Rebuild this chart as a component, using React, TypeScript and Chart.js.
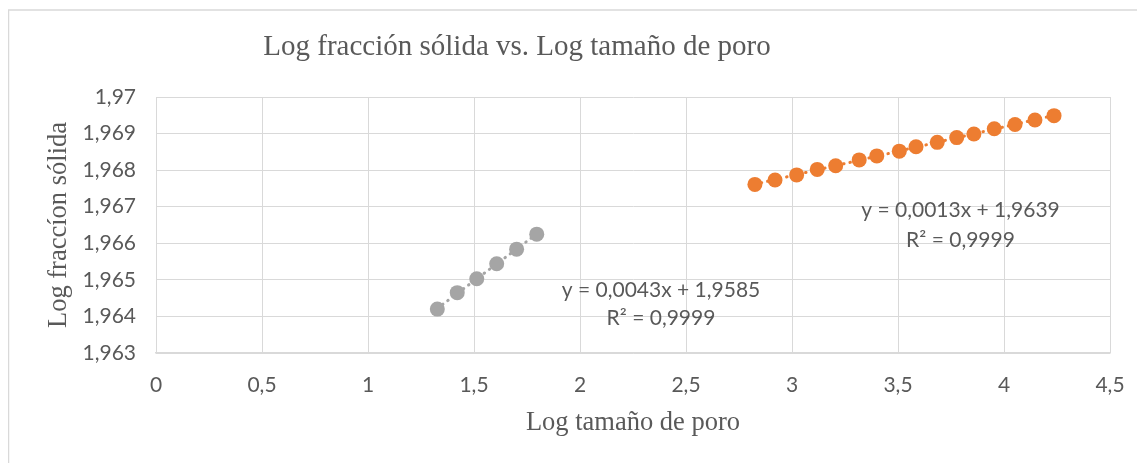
import React, { useEffect, useRef } from 'react';
import { Chart, registerables } from 'chart.js';

Chart.register(...registerables);

// ---- data ----
const grayX = [1.327, 1.421, 1.513, 1.607, 1.701, 1.796];
const grayY = [1.9642, 1.96465, 1.96503, 1.96544, 1.96584, 1.96625];

const orangeX = [2.825, 2.92, 3.022, 3.119, 3.206, 3.317, 3.4, 3.506, 3.585, 3.685, 3.777, 3.858, 3.954, 4.052, 4.146, 4.236];
const orangeY = [1.96761, 1.96773, 1.96787, 1.96802, 1.96812, 1.96828, 1.96839, 1.96852, 1.96864, 1.96876, 1.96889, 1.96899, 1.96913, 1.96925, 1.96937, 1.96949];

const yTickLabels = ['1,963', '1,964', '1,965', '1,966', '1,967', '1,968', '1,969', '1,97'];
const xTickLabels = ['0', '0,5', '1', '1,5', '2', '2,5', '3', '3,5', '4', '4,5'];

const grayEquation = ['y = 0,0043x + 1,9585', 'R² = 0,9999'];
const orangeEquation = ['y = 0,0013x + 1,9639', 'R² = 0,9999'];

const chartTitle = 'Log fracción sólida vs. Log tamaño de poro';
const xAxisTitle = 'Log tamaño de poro';
const yAxisTitle = 'Log fraccíon sólida';

const GRAY = '#A5A5A5';
const ORANGE = '#ED7D31';
const TEXT = '#595959';
const GRID = '#D9D9D9';

function fitLine(xs: number[], ys: number[]) {
  const n = xs.length;
  const mx = xs.reduce((a, b) => a + b, 0) / n;
  const my = ys.reduce((a, b) => a + b, 0) / n;
  let sxy = 0;
  let sxx = 0;
  for (let i = 0; i < n; i++) {
    sxy += (xs[i] - mx) * (ys[i] - my);
    sxx += (xs[i] - mx) * (xs[i] - mx);
  }
  const m = sxy / sxx;
  const b = my - m * mx;
  const x0 = Math.min(...xs);
  const x1 = Math.max(...xs);
  return [
    { x: x0, y: m * x0 + b },
    { x: x1, y: m * x1 + b },
  ];
}

const W = 1137;
const H = 455;

const textPlugin = {
  id: 'customTexts',
  beforeDraw(chart: any) {
    const ctx = chart.ctx;
    ctx.save();
    ctx.fillStyle = '#ffffff';
    ctx.fillRect(0, 0, W, H);
    ctx.strokeStyle = GRID;
    ctx.lineWidth = 1.5;
    ctx.beginPath();
    ctx.moveTo(0.5, H);
    ctx.lineTo(0.5, 2);
    ctx.lineTo(W, 2);
    ctx.stroke();
    ctx.restore();
  },
  afterDraw(chart: any) {
    const ctx = chart.ctx;
    ctx.save();
    ctx.fillStyle = TEXT;
    ctx.textAlign = 'center';
    ctx.textBaseline = 'alphabetic';

    ctx.font = '29px "Liberation Serif", serif';
    ctx.fillText(chartTitle, 509, 47);

    ctx.font = '26.5px "Liberation Serif", serif';
    ctx.fillText(xAxisTitle, 625, 422);

    ctx.save();
    ctx.translate(58, 217);
    ctx.rotate(-Math.PI / 2);
    ctx.fillText(yAxisTitle, 0, 0);
    ctx.restore();

    ctx.font = '21px Lato, sans-serif';
    ctx.fillText(grayEquation[0], 653, 289);
    ctx.fillText(grayEquation[1], 653, 317);
    ctx.fillText(orangeEquation[0], 952.5, 209);
    ctx.fillText(orangeEquation[1], 952.5, 239);
    ctx.restore();
  },
};

export default function App() {
  const ref = useRef<HTMLCanvasElement | null>(null);

  useEffect(() => {
    if (!ref.current) return;
    const grayPts = grayX.map((x, i) => ({ x, y: grayY[i] }));
    const orangePts = orangeX.map((x, i) => ({ x, y: orangeY[i] }));

    const chart = new Chart(ref.current, {
      type: 'scatter',
      data: {
        datasets: [
          {
            label: 'gray',
            data: grayPts,
            backgroundColor: GRAY,
            borderColor: GRAY,
            pointRadius: 7.5,
            pointBorderWidth: 0,
            showLine: false,
          },
          {
            label: 'orange',
            data: orangePts,
            backgroundColor: ORANGE,
            borderColor: ORANGE,
            pointRadius: 7.5,
            pointBorderWidth: 0,
            showLine: false,
          },
          {
            label: 'grayTrend',
            data: fitLine(grayX, grayY),
            borderColor: GRAY,
            borderWidth: 3,
            borderDash: [0.5, 6],
            borderCapStyle: 'round',
            pointRadius: 0,
            showLine: true,
          },
          {
            label: 'orangeTrend',
            data: fitLine(orangeX, orangeY),
            borderColor: ORANGE,
            borderWidth: 3,
            borderDash: [0.5, 6],
            borderCapStyle: 'round',
            pointRadius: 0,
            showLine: true,
          },
        ],
      } as any,
      options: {
        animation: false,
        responsive: false,
        events: [],
        layout: { padding: { top: 89, right: 35, left: 0, bottom: 0 } },
        plugins: {
          legend: { display: false },
          tooltip: { enabled: false },
          title: { display: false },
        },
        scales: {
          x: {
            type: 'linear',
            min: 0,
            max: 4.5,
            afterFit: (s: any) => {
              s.height = H - 345;
            },
            ticks: {
              stepSize: 0.5,
              padding: 20,
              color: TEXT,
              font: { family: 'Lato', size: 21 },
              maxRotation: 0,
              callback: (v: any) => xTickLabels[Math.round(Number(v) / 0.5)],
            },
            grid: { color: GRID, lineWidth: 1, drawTicks: false },
            border: { color: GRID, width: 1.5 },
          },
          y: {
            type: 'linear',
            min: 1.963,
            max: 1.97,
            afterFit: (s: any) => {
              s.width = 148;
            },
            ticks: {
              stepSize: 0.001,
              padding: 20,
              color: TEXT,
              font: { family: 'Lato', size: 21 },
              callback: (v: any) => yTickLabels[Math.round((Number(v) - 1.963) / 0.001)],
            },
            grid: { color: GRID, lineWidth: 1, drawTicks: false },
            border: { color: GRID, width: 1 },
          },
        },
      } as any,
      plugins: [textPlugin],
    });
    return () => chart.destroy();
  }, []);

  return (
    <div style={{ width: W, height: H, position: 'relative' }}>
      <canvas ref={ref} width={W} height={H} style={{ display: 'block', width: W, height: H }} />
    </div>
  );
}
